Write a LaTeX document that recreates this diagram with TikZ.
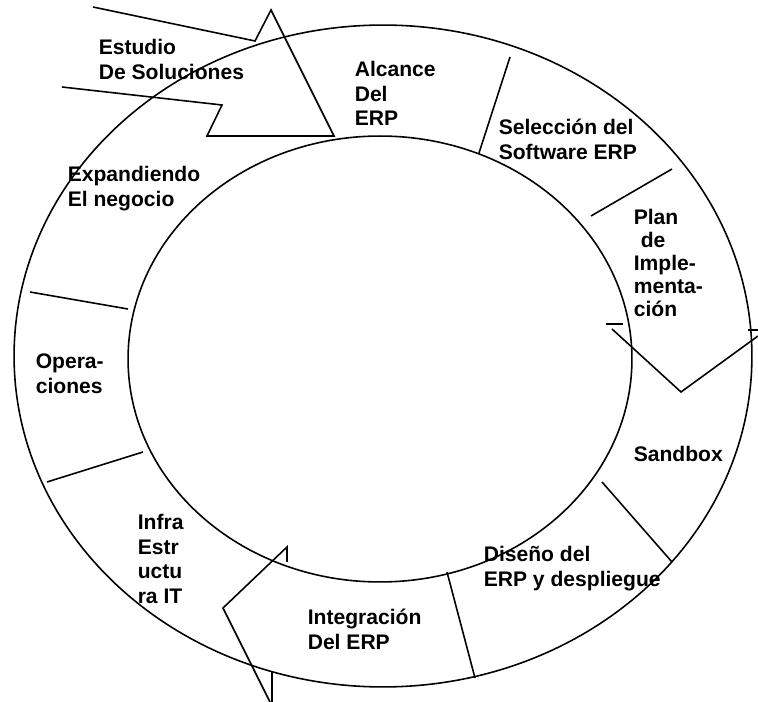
\documentclass[tikz,border=0pt]{standalone}
\usepackage{fontspec}
\setmainfont{Liberation Sans}
\usepackage{tikz}
\usetikzlibrary{positioning, calc}

\begin{document}
\begin{tikzpicture}[x=0.02cm, y=-0.02cm, line width=0.9pt,
    etiqueta/.style={font=\fontsize{12}{14.2}\selectfont\bfseries, align=left, anchor=north west, inner sep=0pt}]
            \useasboundingbox (0,0) rectangle (758,702);
            % 外圈与内圈(椭圆)
            \draw (383,356) ellipse [x radius=7.38cm, y radius=6.62cm];
            \draw (380,359) ellipse [x radius=5.04cm, y radius=4.46cm];
            % 分隔线
            \draw (510,57) -- (479,153);
            \draw (672,169) -- (591,216);
            \draw (602,482) -- (672,562);
            \draw (447,572) -- (475,678);
            \draw (47,482) -- (143,452);
            \draw (30,292) -- (128,309);
            % 左上大箭头
            \draw (93,7) -- (255,41) -- (271,10) -- (334,136) -- (207,136) -- (222,105) -- (62,87);
            % 右侧V形箭头
            \draw (606,324) -- (623,324);
            \draw (612,329) -- (681,392) -- (758,336);
            \draw (748,330) -- (758,330);
            % 左下箭头
            \draw (287,562) -- (287,547) -- (223,608) -- (270,702);
            \draw (272,672) -- (272,702);
            % 各阶段文字
            \node[etiqueta] (estudio) at (98,38) {Estudio\\De Soluciones};
            \node[etiqueta] (alcance) at (354,60) {Alcance\\Del\\ERP};
            \node[etiqueta] (seleccion) at (498,118) {Selección del\\Software ERP};
            \node[etiqueta, font=\fontsize{12}{13.2}\selectfont\bfseries] (plan) at (633,208) {Plan\\\hspace*{4pt}de\\Imple-\\menta-\\ción};
            \node[etiqueta] (sandbox) at (633,445) {Sandbox};
            \node[etiqueta] (diseno) at (483,545) {Diseño del\\ERP y despliegue};
            \node[etiqueta] (integracion) at (307,608) {Integración\\Del ERP};
            \node[etiqueta] (infra) at (137,513) {Infra\\Estr\\uctu\\ra IT};
            \node[etiqueta] (operaciones) at (35,353) {Opera-\\ciones};
            \node[etiqueta] (expandiendo) at (67,165) {Expandiendo\\El negocio};
        \end{tikzpicture}
\end{document}
